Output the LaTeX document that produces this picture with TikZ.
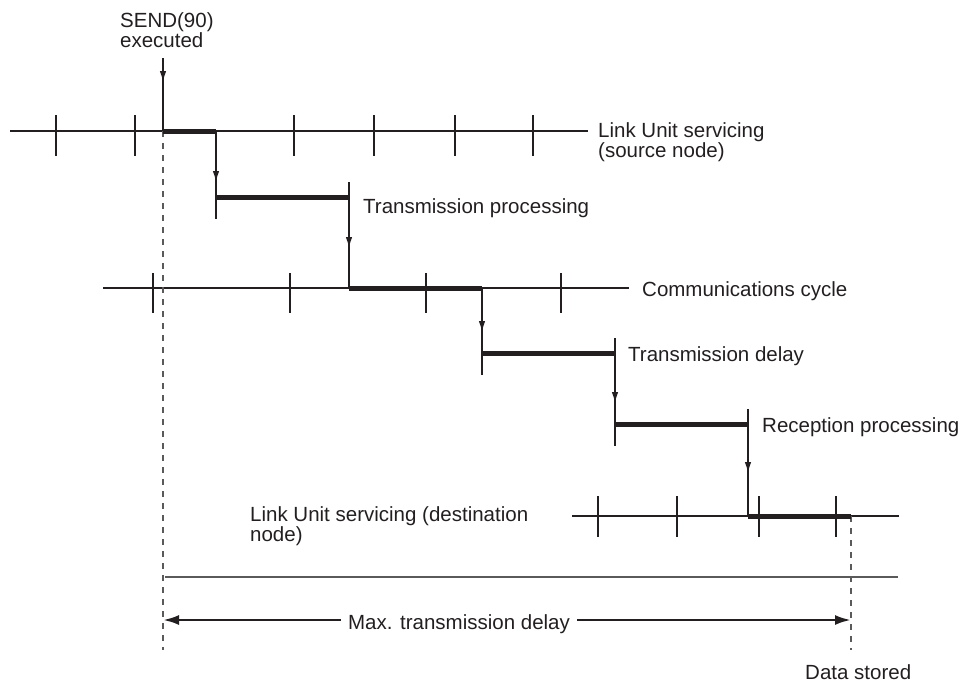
\documentclass[tikz,border=0pt]{standalone}
\usepackage{fontspec}
\setmainfont{Liberation Sans}
\usetikzlibrary{arrows.meta,decorations.markings}
\definecolor{InkGray}{RGB}{35,31,32}
\definecolor{GuideGray}{RGB}{90,90,90}

\begin{document}
\begin{tikzpicture}[x=1pt,y=-1pt,
lbl/.style={inner sep=0pt,align=left,font=\fontsize{20.5}{20.5}\selectfont,text=InkGray},
tline/.style={draw=InkGray,line width=1.2pt},
bar/.style={draw=InkGray,line width=5pt},
guide/.style={draw=GuideGray,line width=1.3pt,dash pattern=on 6pt off 6pt},
midarrow/.style={draw=InkGray,line width=1.2pt,postaction={decorate},decoration={markings,mark=at position -#1 with {\arrow{Latex[length=11pt,width=6.5pt]}}}},
span/.style={draw=InkGray,line width=2.6pt,-{Latex[length=16pt,width=10pt]}}]
\useasboundingbox (0,0) rectangle (966,683);
\node[lbl,anchor=west,font=\fontsize{20.5}{19.5}\selectfont] (send) at (120,30) {SEND(90)\\executed};
\coordinate (sendfoot) at (163,58);
\coordinate (s0) at (163,131);
\coordinate (s1) at (216,131);
\coordinate (p0) at (216,197);
\coordinate (p1) at (349,197);
\coordinate (c0) at (349,288);
\coordinate (c1) at (482,288);
\coordinate (d0) at (482,353);
\coordinate (d1) at (615,353);
\coordinate (r0) at (615,424);
\coordinate (r1) at (748,424);
\coordinate (e0) at (748,516);
\coordinate (e1) at (851,516);
\coordinate (mstart) at (163,620);
\coordinate (mend) at (851,620);
% time lines
\draw[tline] (10,131) -- (588,131);
\foreach \x in {56,135,294,374,455,533}{\draw[tline] (\x,115) -- (\x,156);}
\draw[tline] (103,288) -- (629,288);
\foreach \x in {153,290,426,561}{\draw[tline] (\x,273) -- (\x,313);}
\draw[tline] (572,516) -- (899,516);
\foreach \x in {598,677,759,836}{\draw[tline] (\x,496) -- (\x,537);}
\draw[draw=GuideGray,line width=1.2pt] (165,577) -- (898,577);
\draw[guide] (s0) -- (163,650);
\draw[guide] (e1) -- (851,650);
% busy periods
\draw[bar] (s0) -- (s1);
\draw[bar] (p0) -- (p1);
\draw[bar] (c0) -- (c1);
\draw[bar] (d0) -- (d1);
\draw[bar] (r0) -- (r1);
\draw[bar] (e0) -- (e1);
\foreach \a/\b in {p0/p1,d0/d1,r0/r1}{
  \draw[tline] (\a) -- ++(0,22);
  \draw[tline] (\b) -- ++(0,-15);
}
% hand-overs
\draw[midarrow=49pt] (sendfoot) -- (s0);
\draw[midarrow=15pt] (s1) -- (p0);
\draw[midarrow=40pt] (p1) -- (c0);
\draw[midarrow=21pt] (c1) -- (d0);
\draw[midarrow=21pt] (d1) -- (r0);
\draw[midarrow=43pt] (r1) -- (e0);
\node[lbl,anchor=west] (srclab) at (598,142) {Link Unit servicing\\(source node)};
\node[lbl,anchor=base west] (tproc) at (363,213) {Transmission processing};
\node[lbl,anchor=base west] (commlab) at (642,296) {Communications cycle};
\node[lbl,anchor=base west] (tdelay) at (628,361) {Transmission delay};
\node[lbl,anchor=base west] (rproc) at (762,432) {Reception processing};
\node[lbl,anchor=west] (dstlab) at (250,526) {Link Unit servicing (destination\\node)};
\node[lbl,anchor=base,inner xsep=7pt] (maxlab) at (459,629) {Max. transmission delay};
\draw[span] (maxlab.west |- mstart) -- (mstart);
\draw[span] (maxlab.east |- mend) -- (mend);
\node[lbl,anchor=base west] (stored) at (805,679) {Data stored};
\end{tikzpicture}
\end{document}
